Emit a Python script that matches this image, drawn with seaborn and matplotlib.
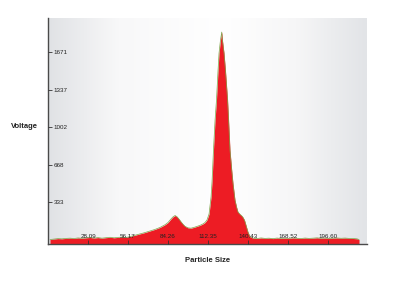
import numpy as np
import pandas as pd
import matplotlib
matplotlib.use("Agg")
import matplotlib.pyplot as plt
import seaborn as sns
from matplotlib.colors import LinearSegmentedColormap

# ---- data ----
particle_size = [
    1.4, 4.2, 7.0, 9.8, 12.6, 15.5, 18.3, 21.1, 23.9, 26.7,
    29.5, 32.3, 35.1, 37.9, 40.7, 43.5, 46.4, 49.2, 52.0, 54.8,
    57.6, 61.1, 64.6, 68.1, 71.6, 75.1, 78.7, 82.2, 84.3, 86.4,
    87.8, 89.2, 90.6, 92.0, 93.4, 94.8, 96.2, 98.3, 100.4, 102.5,
    104.6, 106.7, 108.8, 110.3, 111.7, 113.1, 113.8, 114.5, 115.2, 116.2,
    117.3, 118.3, 119.4, 120.1, 121.1, 122.0, 122.5, 123.6, 124.6, 126.1,
    126.8, 127.8, 129.0, 129.9, 131.3, 132.4, 133.4, 134.8, 135.9, 136.9,
    138.0, 139.0, 140.4, 141.8, 144.0, 146.8, 149.6, 152.4, 155.2, 158.0,
    160.8, 163.6, 166.4, 169.2, 172.0, 174.9, 177.7, 180.5, 183.3, 186.1,
    188.9, 191.7, 194.5, 197.3, 200.1, 202.9, 205.8, 208.6, 211.4, 214.2,
    217.0, 218.4,
]
voltage = [
    0, 4, 8, 6, 10, 12, 9, 14, 11, 15,
    18, 13, 17, 12, 16, 20, 15, 19, 22, 18,
    26, 38, 50, 62, 76, 90, 108, 132, 152, 184,
    202, 214, 203, 182, 158, 136, 118, 104, 101, 108,
    117, 126, 139, 152, 176, 228, 305, 380, 520, 800,
    1065, 1243, 1510, 1662, 1777, 1850, 1777, 1662, 1510, 1243,
    1065, 797, 619, 500, 352, 290, 245, 225, 213, 198,
    172, 129, 67, 25, 12, 9, 14, 10, 12, 8,
    13, 9, 12, 10, 14, 11, 9, 13, 10, 12,
    15, 11, 13, 10, 12, 14, 11, 13, 10, 9,
    6, 0,
]
y_ticks = [333, 668, 1002, 1337, 1671]
y_tick_labels = ["333", "668", "1002", "1337", "1671"]
x_ticks = [28.09, 56.17, 84.26, 112.35, 140.43, 168.52, 196.60]
x_tick_labels = ["28.09", "56.17", "84.26", "112.35", "140.43", "168.52", "196.60"]

df = pd.DataFrame({"Particle Size": particle_size, "Voltage": voltage})

sns.set_style("white")
plt.rcParams["font.family"] = ["Liberation Sans", "DejaVu Sans"]

fig = plt.figure(figsize=(4.03, 2.83), dpi=100)
ax = fig.add_axes([48 / 403, 1 - 244 / 283, 319 / 403, 226 / 283])
ax.set_axisbelow(False)

x_min, x_max = 0, 224.0
y_min, y_max = -40, 1975

# background gradient (gray - white - gray)
cmap = LinearSegmentedColormap.from_list(
    "bg", [(0.0, "#e0e2e5"), (0.22, "#f8f8f9"), (0.55, "#ffffff"), (0.78, "#f6f6f7"), (1.0, "#e2e4e7")]
)
grad = np.linspace(0, 1, 256).reshape(1, -1)
ax.imshow(grad, cmap=cmap, aspect="auto", extent=[x_min, x_max, y_min, y_max], zorder=0)

ax.fill_between(df["Particle Size"], df["Voltage"], y_min, color="#ed1c24", lw=0, zorder=1)
sns.lineplot(data=df, x="Particle Size", y="Voltage", ax=ax, color="#7fa54a", lw=0.5, zorder=1.5)

ax.set_xlim(x_min, x_max)
ax.set_ylim(y_min, y_max)

for s in ["top", "right"]:
    ax.spines[s].set_visible(False)
for s in ["left", "bottom"]:
    ax.spines[s].set_color("#4a4a4a")
    ax.spines[s].set_linewidth(1.0)
    ax.spines[s].set_zorder(3)

ax.set_yticks(y_ticks)
ax.set_yticklabels(y_tick_labels)
ax.set_xticks(x_ticks)
ax.set_xticklabels(x_tick_labels)
ax.tick_params(axis="y", direction="in", length=3, width=0.6, color="#333333",
               labelsize=4.5, labelcolor="#222222", pad=-4.0, left=True)
ax.tick_params(axis="x", direction="in", length=3, width=0.6, color="#333333",
               labelsize=4.5, labelcolor="#222222", pad=-3.5, bottom=True)
for lbl in ax.get_yticklabels():
    lbl.set_horizontalalignment("left")
for lbl in ax.get_xticklabels():
    lbl.set_verticalalignment("bottom")
ax.xaxis.set_zorder(4)
ax.yaxis.set_zorder(4)

ax.set_xlabel("Particle Size", fontsize=5.5, fontweight="bold", color="#222222")
ax.set_ylabel("Voltage", fontsize=5.5, fontweight="bold", color="#222222", rotation=0)
ax.xaxis.set_label_coords((208 - 48) / 319, (244 - 260) / 226)
ax.yaxis.set_label_coords((24 - 48) / 319, (244 - 127) / 226)
ax.yaxis.label.set_verticalalignment("center")
ax.xaxis.label.set_verticalalignment("center")

fig.savefig("out.png", dpi=100)
